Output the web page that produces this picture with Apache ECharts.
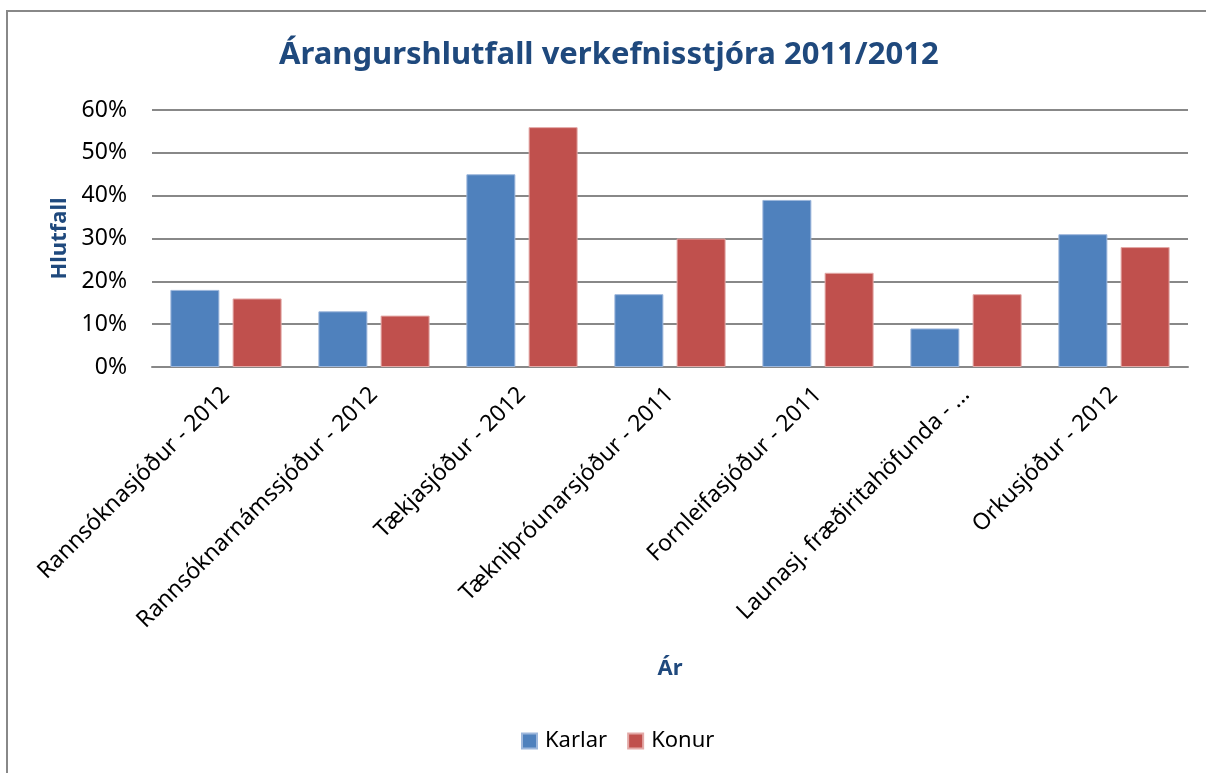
<!DOCTYPE html>
<html>
<head>
<meta charset="utf-8">
<title>Árangurshlutfall verkefnisstjóra 2011/2012</title>
<script src="https://cdn.jsdelivr.net/npm/echarts@6/dist/echarts.min.js"></script>
<style>
	html, body { margin: 0; padding: 0; background: #fff; }
	#container { width: 1206px; height: 773px; }
</style>
</head>
<body>
<div id="container"></div>
<script>
// flokkar (sjóðir) og gildi í prósentum
var categories = ['Rannsóknasjóður - 2012', 'Rannsóknarnámssjóður - 2012', 'Tækjasjóður - 2012',
	'Tækniþróunarsjóður - 2011', 'Fornleifasjóður - 2011', 'Launasj. fræðiritahöfunda - ...', 'Orkusjóður - 2012'];
var karlar = [18, 13, 45, 17, 39, 9, 31];
var konur = [16, 12, 56, 30, 22, 17, 28];
var yTicks = [0, 10, 20, 30, 40, 50, 60];

var font = 'Noto Sans';
var myChart = echarts.init(document.getElementById('container'));

var option = {
	animation: false,
	textStyle: { fontFamily: font },
	title: {
		text: 'Árangurshlutfall verkefnisstjóra 2011/2012',
		left: 274,
		top: 35,
		textStyle: { color: '#1F497D', fontSize: 31, fontWeight: 'bold', fontFamily: font }
	},
	// rammi utan um myndina
	graphic: [{
		type: 'rect',
		shape: { x: 7, y: 11, width: 1210, height: 780 },
		style: { fill: 'none', stroke: '#888888', lineWidth: 2 }
	}],
	legend: {
		left: 516,
		top: 725,
		itemWidth: 15,
		itemHeight: 15,
		itemGap: 20,
		icon: 'rect',
		textStyle: { fontSize: 22, color: '#000', fontFamily: font, padding: [0, 0, 0, 3] },
		data: ['Karlar', 'Konur']
	},
	grid: { left: 152, right: 18, top: 110, bottom: 406 },
	xAxis: {
		type: 'category',
		data: categories,
		name: 'Ár',
		nameLocation: 'middle',
		nameGap: 291,
		nameTextStyle: { color: '#1F497D', fontSize: 22, fontWeight: 'bold' },
		axisLine: { lineStyle: { color: '#888888', width: 2 } },
		axisTick: { show: false },
		axisLabel: { rotate: 45, margin: 24, fontSize: 23, color: '#000', interval: 0 }
	},
	yAxis: {
		type: 'value',
		min: yTicks[0],
		max: yTicks[yTicks.length - 1],
		interval: 10,
		name: 'Hlutfall',
		nameLocation: 'middle',
		nameGap: 81,
		nameTextStyle: { color: '#1F497D', fontSize: 22, fontWeight: 'bold' },
		axisLine: { show: false },
		axisTick: { show: false },
		axisLabel: { formatter: '{value}%', fontSize: 23, color: '#000', margin: 25 },
		splitLine: { lineStyle: { color: '#888888', width: 2 } }
	},
	series: [{
		name: 'Karlar',
		type: 'bar',
		data: karlar,
		barWidth: 49,
		barGap: '27%',
		itemStyle: { color: '#4F81BD', borderColor: '#9DB7DC', borderWidth: 1 }
	}, {
		name: 'Konur',
		type: 'bar',
		data: konur,
		barWidth: 49,
		itemStyle: { color: '#C0504D', borderColor: '#E3A9A7', borderWidth: 1 }
	}]
};

myChart.setOption(option);
</script>
</body>
</html>
